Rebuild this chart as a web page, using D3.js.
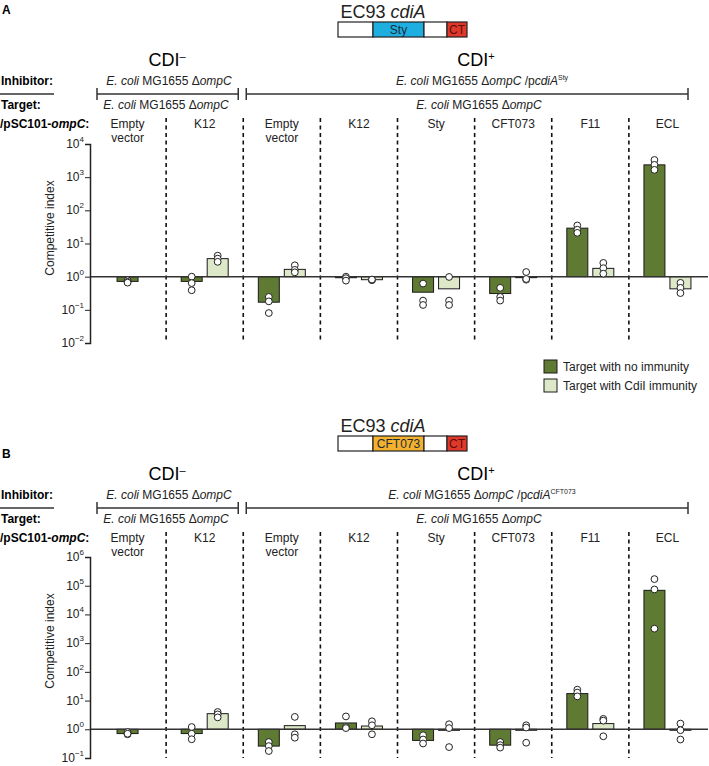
<!DOCTYPE html>
<html><head><meta charset="utf-8">
<script src="https://cdn.jsdelivr.net/npm/d3@7"></script>
<style>body{margin:0;background:#fff}svg{display:block;font-family:"Liberation Sans",Arial,sans-serif}</style>
</head><body><svg id="c" width="709" height="766"></svg>
<script>
const groups = ["Empty vector","K12","Empty vector","K12","Sty","CFT073","F11","ECL"];
const seriesNames = ["Target with no immunity","Target with CdiI immunity"];

// Panel A (pcdiA Sty)
const aNoImm   = [0.72, 0.72, 0.17, 0.93, 0.34, 0.31, 29, 2350];
const aImm     = [null, 3.5, 1.66, 0.81, 0.43, 0.98, 1.78, 0.43];
const aNoImmPts = [[0.78,0.7,0.66],[1.0,0.64,0.39],[0.245,0.18,0.08],[1.0,0.9,0.76],[0.62,0.19,0.14],[0.46,0.245,0.19],[35,26,21],[3300,2350,1660]];
const aImmPts   = [[],[4.3,3.5,2.8],[2.2,1.6,1.35],[0.78,0.8,0.82],[0.98,0.19,0.14],[1.38,0.81,0.85],[2.6,1.8,1.23],[0.65,0.46,0.32]];
const aTicks = [-2,-1,0,1,2,3,4];

// Panel B (pcdiA CFT073)
const bNoImm   = [0.71, 0.71, 0.26, 1.66, 0.41, 0.28, 17.5, 69000];
const bImm     = [null, 3.5, 1.34, 1.3, 0.92, 0.95, 1.58, 0.95];
const bNoImmPts = [[0.8,0.67,0.7],[1.2,0.7,0.45],[0.36,0.26,0.175],[2.8,1.2,1.1],[0.62,0.44,0.32],[0.36,0.28,0.23],[24,19,14],[170000,74000,3200]];
const bImmPts   = [[],[4.0,3.3,2.6],[2.7,0.67,0.51],[1.9,1.38,0.67],[1.5,1.1,0.24],[1.38,1.15,0.34],[2.3,2.0,0.57],[1.58,0.93,0.44]];
const bTicks = [-1,0,1,2,3,4,5,6];

const DARK = "#5f7a32", LIGHT = "#dde8c9", INK = "#222";
const svg = d3.select("#c");
const x = d3.scaleBand().domain(d3.range(groups.length)).range([89, 706]);
const bw = 21, off = 13;

function sup(sel, base, exp, expSize) {
  sel.append("tspan").text(base);
  sel.append("tspan").attr("font-size", expSize).attr("dy", -6).text(exp);
}

function header(g, oy, insertName, insertColor, label, labelY, supText) {
  // panel letter
  g.append("text").attr("x", 2).attr("y", labelY + 5).attr("font-size", 12).attr("font-weight", "bold").text(label);
  // gene diagram
  const t = g.append("text").attr("x", 383).attr("y", oy + 18).attr("text-anchor", "middle").attr("font-size", 18).attr("fill", INK);
  t.append("tspan").text("EC93 ");
  t.append("tspan").attr("font-style", "italic").text("cdiA");
  const segs = [[338,373,"#fff",""],[373,424,insertColor,insertName],[424,447,"#fff",""],[447,467,"#e0392b","CT"]];
  segs.forEach(s => {
    g.append("rect").attr("x", s[0]).attr("y", oy + 22).attr("width", s[1]-s[0]).attr("height", 15)
      .attr("fill", s[2]).attr("stroke", INK).attr("stroke-width", 1.2);
    if (s[3]) g.append("text").attr("x", (s[0]+s[1])/2).attr("y", oy + 34).attr("text-anchor", "middle")
      .attr("font-size", 12).attr("fill", s[3]==="CT" ? "#5a0c08" : "#1b2b3a").text(s[3]);
  });
  // CDI titles
  const c1 = g.append("text").attr("x", 167).attr("y", oy + 66).attr("text-anchor", "middle").attr("font-size", 18);
  sup(c1, "CDI", "\u2013", 11);
  const c2 = g.append("text").attr("x", 476).attr("y", oy + 66).attr("text-anchor", "middle").attr("font-size", 18);
  sup(c2, "CDI", "+", 11);
  // row labels
  g.append("text").attr("x", 1).attr("y", oy + 85).attr("font-size", 12).attr("font-weight", "bold").text("Inhibitor:");
  g.append("line").attr("x1", 0).attr("x2", 54).attr("y1", oy + 94).attr("y2", oy + 94).attr("stroke", "#333").attr("stroke-width", 1.5);
  g.append("text").attr("x", 1).attr("y", oy + 109).attr("font-size", 12).attr("font-weight", "bold").text("Target:");
  const p = g.append("text").attr("x", 0).attr("y", oy + 128).attr("font-size", 12).attr("font-weight", "bold");
  p.append("tspan").text("/pSC101-");
  p.append("tspan").attr("font-style", "italic").text("ompC");
  p.append("tspan").text(":");
  // strain texts
  function strain(cx, y, extra) {
    const s = g.append("text").attr("x", cx).attr("y", y).attr("text-anchor", "middle").attr("font-size", 12).attr("fill", INK);
    s.append("tspan").attr("font-style", "italic").text("E. coli");
    s.append("tspan").text(" MG1655 \u0394");
    s.append("tspan").attr("font-style", "italic").text("ompC");
    if (extra) {
      s.append("tspan").text(" /p");
      s.append("tspan").attr("font-style", "italic").text("cdiA");
      s.append("tspan").attr("font-size", 7).attr("dy", -5).text(extra);
    }
  }
  strain(169, oy + 85, null);
  strain(482, oy + 85, supText);
  strain(166, oy + 109, null);
  strain(479, oy + 109, null);
  // brackets
  const br = [[x(0)+8, x(2)-5], [x(2)+3, x(7)+x.bandwidth()-18]];
  br.forEach(b => {
    g.append("line").attr("x1", b[0]).attr("x2", b[1]).attr("y1", oy+94).attr("y2", oy+94).attr("stroke", "#333").attr("stroke-width", 1.5);
    [b[0], b[1]].forEach(xx => g.append("line").attr("x1", xx).attr("x2", xx).attr("y1", oy+88).attr("y2", oy+100).attr("stroke", "#333").attr("stroke-width", 1.5));
  });
  // group labels
  groups.forEach((name, i) => {
    const cx = x(i) + x.bandwidth()/2;
    const parts = name.split(" ");
    parts.forEach((pt, j) => g.append("text").attr("x", cx).attr("y", oy + 128 + j*14).attr("text-anchor", "middle")
      .attr("font-size", 12).attr("fill", INK).text(pt));
  });
}

function panel(oy, yTop, yBot, ticks, noImm, imm, noPts, immPts, yLabelY) {
  const g = svg.append("g");
  const y = d3.scaleLog().domain([Math.pow(10, ticks[0]), Math.pow(10, ticks[ticks.length-1])]).range([yBot, yTop]);
  // dashed separators
  for (let i = 1; i < groups.length; i++) {
    g.append("line").attr("x1", x(i)).attr("x2", x(i)).attr("y1", oy + 118).attr("y2", yBot)
      .attr("stroke", "#111").attr("stroke-width", 1.6).attr("stroke-dasharray", "4,3.5");
  }
  // bars
  const bars = [];
  groups.forEach((_, i) => {
    const c = x(i) + x.bandwidth()/2;
    const two = imm[i] !== null;
    bars.push({cx: two ? c - off : c, v: noImm[i], pts: noPts[i], fill: DARK});
    if (two) bars.push({cx: c + off, v: imm[i], pts: immPts[i], fill: LIGHT});
  });
  g.selectAll("rect.bar").data(bars).join("rect").attr("class", "bar")
    .attr("x", d => d.cx - bw/2).attr("width", bw)
    .attr("y", d => Math.min(y(d.v), y(1))).attr("height", d => Math.max(1, Math.abs(y(d.v) - y(1))))
    .attr("fill", d => d.fill).attr("stroke", "#1a1a1a").attr("stroke-width", 1);
  // baseline
  g.append("line").attr("x1", 90).attr("x2", 708).attr("y1", y(1)).attr("y2", y(1)).attr("stroke", "#333").attr("stroke-width", 1.5);
  // points
  const pts = bars.flatMap(b => b.pts.map(v => ({cx: b.cx, v})));
  g.selectAll("circle.pt").data(pts).join("circle").attr("class", "pt")
    .attr("cx", d => d.cx).attr("cy", d => y(d.v)).attr("r", 3.4)
    .attr("fill", "#fff").attr("stroke", "#222").attr("stroke-width", 1);
  // axis
  const ax = g.append("g").attr("transform", "translate(90,0)");
  const minor = [];
  for (let k = ticks[0]; k < ticks[ticks.length-1]; k++) for (let m = 2; m <= 9; m++) minor.push(m * Math.pow(10, k));
  ax.call(d3.axisLeft(y).tickValues(minor).tickSize(2.5).tickFormat(""));
  ax.call(d3.axisLeft(y).tickValues(ticks.map(t => Math.pow(10, t))).tickSize(5).tickFormat(""));
  ax.selectAll(".domain").attr("stroke", "#222").attr("stroke-width", 1.5);
  ax.selectAll(".tick line").attr("stroke", "#222");
  ticks.forEach(t => {
    const tx = g.append("text").attr("x", 84).attr("y", y(Math.pow(10, t)) + 4).attr("text-anchor", "end").attr("font-size", 12).attr("fill", INK);
    tx.append("tspan").text("10");
    tx.append("tspan").attr("font-size", 8).attr("dy", -6).text(t < 0 ? "\u2212" + Math.abs(t) : String(t));
  });
  g.append("text").attr("transform", `translate(54,${yLabelY}) rotate(-90)`).attr("text-anchor", "middle")
    .attr("font-size", 12).attr("fill", INK).text("Competitive index");
  return g;
}

const gA = svg.append("g");
header(gA, 0, "Sty", "#1eaee0", "A", 9, "Sty");
panel(0, 144, 343, aTicks, aNoImm, aImm, aNoImmPts, aImmPts, 228);

const gB = svg.append("g");
header(gB, 414, "CFT073", "#f4b12e", "B", 453, "CFT073");
panel(414, 557, 758, bTicks, bNoImm, bImm, bNoImmPts, bImmPts, 641);

// legend (panel A)
const leg = svg.append("g");
[DARK, LIGHT].forEach((col, i) => {
  leg.append("rect").attr("x", 544).attr("y", 360 + i*19).attr("width", 13).attr("height", 13)
    .attr("fill", col).attr("stroke", "#1a1a1a").attr("stroke-width", 1);
  leg.append("text").attr("x", 563).attr("y", 371 + i*19).attr("font-size", 12).attr("fill", INK).text(seriesNames[i]);
});
</script></body></html>
